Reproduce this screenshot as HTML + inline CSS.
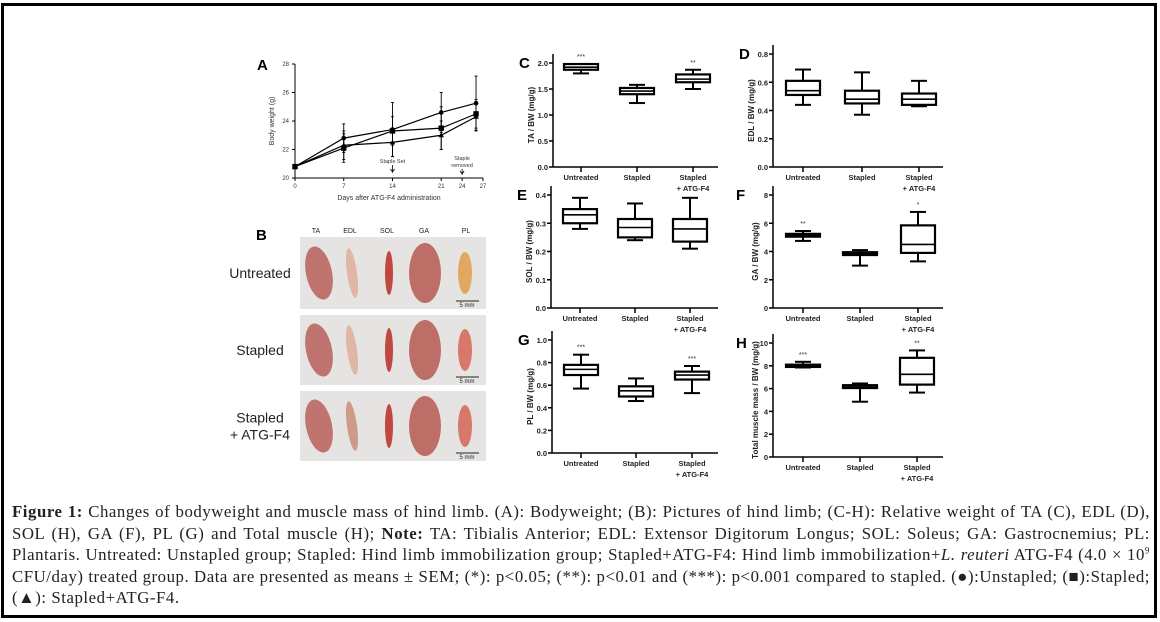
<!DOCTYPE html>
<html><head><meta charset="utf-8">
<style>
body{margin:0;background:#fff;}
#wrap{position:relative;width:1160px;height:622px;overflow:hidden;}
#frame{position:absolute;left:1px;top:3px;width:1150px;height:609px;border:3px solid #000;}
#cap{position:absolute;left:12px;top:501px;width:1138px;font-family:"Liberation Serif",serif;font-size:16.8px;letter-spacing:0.55px;line-height:21.5px;color:#222;text-align:justify;}
svg text{font-family:"Liberation Sans",sans-serif;}
</style></head>
<body>
<div id="wrap">
<div id="frame"></div>
<svg id="svg" width="1160" height="622" style="position:absolute;left:0;top:0"></svg>
<div id="cap"><b>Figure 1:</b> Changes of bodyweight and muscle mass of hind limb. (A): Bodyweight; (B): Pictures of hind limb; (C-H): Relative weight of TA (C), EDL (D), SOL (H), GA (F), PL (G) and Total muscle (H); <b>Note:</b> TA: Tibialis Anterior; EDL: Extensor Digitorum Longus; SOL: Soleus; GA: Gastrocnemius; PL: Plantaris. Untreated: Unstapled group; Stapled: Hind limb immobilization group; Stapled+ATG-F4: Hind limb immobilization+<i>L. reuteri</i> ATG-F4 (4.0 × 10<sup style="font-size:9px;line-height:0">9</sup> CFU/day) treated group. Data are presented as means ± SEM; (*): p&lt;0.05; (**): p&lt;0.01 and (***): p&lt;0.001 compared to stapled. (●):Unstapled; (■):Stapled; (▲): Stapled+ATG-F4.</div>
</div>
<script>
// Panel A data
const days = [0, 7, 14, 21, 26];
const unstapled = [20.8, 22.8, 23.4, 24.6, 25.25];
const unstapledErr = [0, 1.0, 1.9, 1.4, 1.9];
const stapled = [20.8, 22.1, 23.3, 23.5, 24.5];
const stapledErr = [0, 1.0, 1.0, 1.5, 1.0];
const stapledAtg = [20.8, 22.3, 22.5, 23.0, 24.3];
const stapledAtgErr = [0, 1.0, 1.0, 1.0, 1.0];
const aXTicks = [0, 7, 14, 21, 24, 27];
const aYTicks = [20, 22, 24, 26, 28];
// Box panels data: [min, q1, median, q3, max]
const groups = ["Untreated", "Stapled", "Stapled|+ ATG-F4"];
const boxC = [[1.80,1.87,1.92,1.98,1.98],[1.23,1.40,1.46,1.52,1.58],[1.50,1.63,1.69,1.78,1.87]];
const starsC = ["***","","**"];
const ticksC = ["0.0","0.5","1.0","1.5","2.0"];
const boxD = [[0.44,0.51,0.54,0.61,0.69],[0.37,0.45,0.48,0.54,0.67],[0.43,0.44,0.48,0.52,0.61]];
const starsD = ["","",""];
const ticksD = ["0.0","0.2","0.4","0.6","0.8"];
const boxE = [[0.28,0.30,0.33,0.35,0.39],[0.24,0.25,0.285,0.315,0.37],[0.21,0.235,0.28,0.315,0.39]];
const starsE = ["","",""];
const ticksE = ["0.0","0.1","0.2","0.3","0.4"];
const boxF = [[4.75,5.05,5.15,5.25,5.45],[3.0,3.75,3.85,3.95,4.1],[3.3,3.9,4.5,5.85,6.8]];
const starsF = ["**","","*"];
const ticksF = ["0","2","4","6","8"];
const boxG = [[0.57,0.69,0.74,0.78,0.87],[0.46,0.50,0.55,0.59,0.66],[0.53,0.65,0.69,0.72,0.77]];
const starsG = ["***","","***"];
const ticksG = ["0.0","0.2","0.4","0.6","0.8","1.0"];
const boxH = [[7.85,7.9,8.0,8.1,8.35],[4.85,6.05,6.15,6.3,6.45],[5.65,6.35,7.25,8.7,9.35]];
const starsH = ["***","","**"];
const ticksH = ["0","2","4","6","8","10"];

const svg = document.getElementById('svg');
const NS = 'http://www.w3.org/2000/svg';
function el(tag, attrs, text){
  const e = document.createElementNS(NS, tag);
  for (const k in attrs) e.setAttribute(k, attrs[k]);
  if (text !== undefined) e.textContent = text;
  svg.appendChild(e);
  return e;
}

// ---------- Panel A ----------
(function(){
  const x0=295, x1=483, yb=178, yt=64;
  const sx = d => x0 + (d-0)/27*(x1-x0);
  const sy = v => yb - (v-20)/8*(yb-yt);
  let t = el('text',{x:257,y:70,'font-size':15,'font-weight':'bold'},'A');
   
  let l = el('line',{x1:x0,y1:yt,x2:x0,y2:yb,stroke:'#000','stroke-width':1});
   
  l = el('line',{x1:x0,y1:yb,x2:x1,y2:yb,stroke:'#000','stroke-width':1});
   
  aYTicks.forEach(v=>{
    el('line',{x1:x0-3,y1:sy(v),x2:x0,y2:sy(v),stroke:'#000'});
    const tt = el('text',{x:x0-6,y:sy(v)+2,'font-size':6,'text-anchor':'end',fill:'#333'},String(v));
     
  });
  aXTicks.forEach(v=>{
    el('line',{x1:sx(v),y1:yb,x2:sx(v),y2:yb+3,stroke:'#000'});
    const tt = el('text',{x:sx(v),y:yb+10,'font-size':6,'text-anchor':'middle',fill:'#333'},String(v));
     
  });
  t = el('text',{x:389,y:200,'font-size':7,'text-anchor':'middle',fill:'#333'},'Days after ATG-F4 administration');
   
  t = el('text',{x:274,y:121,'font-size':7,'text-anchor':'middle',fill:'#333',transform:'rotate(-90 274 121)'},'Body weight (g)');
   
  t = el('text',{x:sx(14),y:163,'font-size':5.5,'text-anchor':'middle',fill:'#333'},'Staple Set');
   
  el('path',{d:`M${sx(14)} 165 v7 l-2 -3 m2 3 l2 -3`,stroke:'#000',fill:'none','stroke-width':0.8});
  t = el('text',{x:sx(24),y:160,'font-size':5.5,'text-anchor':'middle',fill:'#333'},'Staple');
   
  el('text',{x:sx(24),y:167,'font-size':5.5,'text-anchor':'middle',fill:'#333'},'removed');
  el('path',{d:`M${sx(24)} 169 v5 l-2 -3 m2 3 l2 -3`,stroke:'#000',fill:'none','stroke-width':0.8});
  const series = [[unstapled,unstapledErr,'circle','series-unstapled'],[stapled,stapledErr,'square','series-stapled'],[stapledAtg,stapledAtgErr,'triangle','series-stapled-atg']];
  series.forEach(([vals,errs,mk,name])=>{
    const p = el('polyline',{points:vals.map((v,i)=>sx(days[i])+','+sy(v)).join(' '),fill:'none',stroke:'#000','stroke-width':1.2});
     
    vals.forEach((v,i)=>{
      const cx=sx(days[i]), cy=sy(v);
      if(errs[i]>0){
        el('line',{x1:cx,y1:sy(v-errs[i]),x2:cx,y2:sy(v+errs[i]),stroke:'#000','stroke-width':0.9});
        el('line',{x1:cx-1.5,y1:sy(v+errs[i]),x2:cx+1.5,y2:sy(v+errs[i]),stroke:'#000','stroke-width':0.9});
        el('line',{x1:cx-1.5,y1:sy(v-errs[i]),x2:cx+1.5,y2:sy(v-errs[i]),stroke:'#000','stroke-width':0.9});
      }
      let m;
      if(mk==='circle') m=el('circle',{cx:cx,cy:cy,r:2.3,fill:'#000'});
      else if(mk==='square') m=el('rect',{x:cx-2.7,y:cy-2.7,width:5.4,height:5.4,fill:'#000'});
      else m=el('path',{d:`M${cx} ${cy-2.8} L${cx+2.8} ${cy+2} L${cx-2.8} ${cy+2} Z`,fill:'#000'});
       
    });
  });
})();

// ---------- Panel B (photos) ----------
(function(){
  let t = el('text',{x:256,y:240,'font-size':15,'font-weight':'bold'},'B');
   
  const cols=['TA','EDL','SOL','GA','PL'], cx=[316,350,387,424,466];
  cols.forEach((c,i)=>{
    const tt=el('text',{x:cx[i],y:233,'font-size':7,'text-anchor':'middle',fill:'#222'},c);
     
  });
  const rows=[[237,72,'Untreated'],[315,70,'Stapled'],[391,70,'Stapled|+ ATG-F4']];
  rows.forEach(([y,h,lab],r)=>{
    const bg=el('rect',{x:300,y:y,width:186,height:h,fill:'#e6e4e2'});
     
    const my=y+h/2;
    el('ellipse',{cx:319,cy:my,rx:13,ry:27,fill:'#b8605a',opacity:0.85,transform:`rotate(-12 319 ${my})`});
    el('ellipse',{cx:352,cy:my,rx:5,ry:25,fill:r==2?'#d09a8a':'#e0b6a4',transform:`rotate(-8 352 ${my})`});
    el('ellipse',{cx:389,cy:my,rx:4,ry:22,fill:'#c04840'});
    el('ellipse',{cx:425,cy:my,rx:16,ry:30,fill:'#b8605a',opacity:0.9});
    el('ellipse',{cx:465,cy:my,rx:7,ry:21,fill:r==0?'#e0a860':'#d8786a'});
    el('line',{x1:456,y1:y+h-8,x2:479,y2:y+h-8,stroke:'#222','stroke-width':1});
    el('text',{x:467,y:y+h-2,'font-size':6,'text-anchor':'middle',fill:'#222'},'5 mm');
    const parts=lab.split('|');
    parts.forEach((p,k)=>{
      const tt=el('text',{x:260,y:my+5+(k-(parts.length-1)/2)*17,'font-size':14,'text-anchor':'middle',fill:'#222','font-family':'"DejaVu Sans",sans-serif'},p);
       
    });
  });
})();

// ---------- Box plots ----------
function boxPanel(letter, data, stars, ticks, ax, yb, yt, cats, xEnd, ytitle){
  const vmin=parseFloat(ticks[0]), vmax=parseFloat(ticks[ticks.length-1]);
  const sy = v => yb - (v-vmin)/(vmax-vmin)*(yb-yt);
  const dec = ticks[0].indexOf('.')>=0;
  let t = el('text',{x:ax-(dec?34:37),y:yt+5,'font-size':15,'font-weight':'bold'},letter);
   
  let l=el('line',{x1:ax,y1:yt-9,x2:ax,y2:yb,stroke:'#000','stroke-width':1.5});
   
  l=el('line',{x1:ax,y1:yb,x2:xEnd,y2:yb,stroke:'#000','stroke-width':1.5});
   
  ticks.forEach(s=>{
    const v=parseFloat(s);
    el('line',{x1:ax-4,y1:sy(v),x2:ax,y2:sy(v),stroke:'#000','stroke-width':1.5});
    const tt=el('text',{x:ax-5,y:sy(v)+3,'font-size':7.5,'font-weight':'bold','text-anchor':'end',fill:'#222'},s);
     
  });
  const mid=(yb+yt)/2;
  const tx = ax-(dec?19:15);
  t=el('text',{x:tx,y:mid,'font-size':8,'font-weight':'bold','text-anchor':'middle',fill:'#222',transform:`rotate(-90 ${tx} ${mid})`},ytitle);
   
  data.forEach((d,i)=>{
    const cx=cats[i], w=17;
    el('line',{x1:cx,y1:yb,x2:cx,y2:yb+5,stroke:'#000','stroke-width':1.5});
    groups[i].split('|').forEach((p,k)=>{
      const tt=el('text',{x:cx,y:yb+13+k*11,'font-size':7.5,'font-weight':'bold','text-anchor':'middle',fill:'#222'},p);
       
    });
    el('line',{x1:cx,y1:sy(d[0]),x2:cx,y2:sy(d[1]),stroke:'#000','stroke-width':2});
    el('line',{x1:cx,y1:sy(d[3]),x2:cx,y2:sy(d[4]),stroke:'#000','stroke-width':2});
    el('line',{x1:cx-8,y1:sy(d[0]),x2:cx+8,y2:sy(d[0]),stroke:'#000','stroke-width':2});
    el('line',{x1:cx-8,y1:sy(d[4]),x2:cx+8,y2:sy(d[4]),stroke:'#000','stroke-width':2});
    const b=el('rect',{x:cx-w,y:sy(d[3]),width:2*w,height:Math.max(1,sy(d[1])-sy(d[3])),fill:'#fff',stroke:'#000','stroke-width':2.2});
     
    el('line',{x1:cx-w,y1:sy(d[2]),x2:cx+w,y2:sy(d[2]),stroke:'#000','stroke-width':1.6});
    if(stars[i]){
      const st=el('text',{x:cx,y:sy(d[4])-5,'font-size':7,'text-anchor':'middle',fill:'#333'},stars[i]);
       
    }
  });
}
boxPanel('C',boxC,starsC,ticksC,553,167,63,[581,637,693],718,'TA / BW (mg/g)');
boxPanel('D',boxD,starsD,ticksD,773,167,54,[803,862,919],943,'EDL / BW (mg/g)');
boxPanel('E',boxE,starsE,ticksE,551,308,195,[580,635,690],718,'SOL / BW (mg/g)');
boxPanel('F',boxF,starsF,ticksF,773,308,195,[803,860,918],943,'GA / BW (mg/g)');
boxPanel('G',boxG,starsG,ticksG,552,453,340,[581,636,692],718,'PL / BW (mg/g)');
boxPanel('H',boxH,starsH,ticksH,773,457,343,[803,860,917],943,'Total muscle mass / BW (mg/g)');
</script>
</body></html>
